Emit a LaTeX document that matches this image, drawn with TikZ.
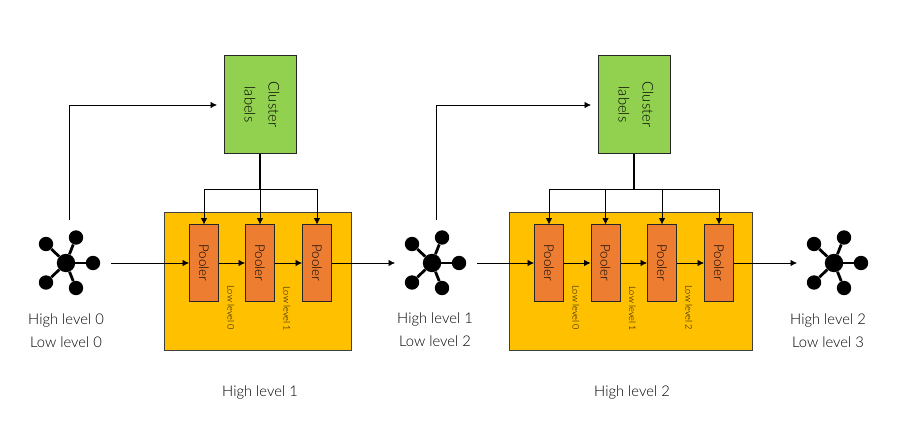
\documentclass[tikz,border=0pt]{standalone}
\usepackage{fontspec}
\setmainfont{Lato Light}
\usetikzlibrary{arrows.meta}
\newcommand{\vtext}[1]{\rotatebox{-90}{#1}}
\newcommand{\hubicon}[2]{%
\node [hub] (#1) at (#2,263) {};
\foreach \dx/\dy/\sat in {27/0/a,10/-25.5/b,-20/-19/c,-20/19.5/d,10/25/e}
{
\node [leaf] (#1\sat) at (#2+\dx,263+\dy) {};
\draw [spoke] (#1) -- (#1\sat);
}
}
\tikzset{
  hub/.style = {circle, fill=black, inner sep=0pt, minimum size=0.46cm},
  leaf/.style = {circle, fill=black, inner sep=0pt, minimum size=0.36cm},
  spoke/.style = {line width=2pt, black},
  panel/.style = {draw=black!75, line width=0.7pt, fill=panelyellow, minimum height=3.425cm},
  pooler/.style = {draw=black!85, line width=0.7pt, fill=poolerorange, minimum width=0.725cm, minimum height=1.9cm, inner sep=0pt, font=\fontsize{9.5}{11}\selectfont},
  cluster/.style = {draw=black!85, line width=0.7pt, fill=clustergreen, minimum width=1.8cm, minimum height=2.425cm, inner sep=0pt, font=\fontsize{10.5}{12}\selectfont},
  flow/.style = {-{Latex[length=0.16cm,width=0.16cm]}, line width=0.5pt, black},
  tiny/.style = {font=\fontsize{6.5}{7}\selectfont, inner sep=0pt},
  caption/.style = {font=\fontsize{10.5}{12}\selectfont, inner sep=0pt}
}
\definecolor{panelyellow}{HTML}{FFC000}
\definecolor{poolerorange}{HTML}{ED7D31}
\definecolor{clustergreen}{HTML}{92D050}
\begin{document}
\begin{tikzpicture}[x=0.025cm,y=-0.025cm]
\useasboundingbox (0,0) rectangle (906,426);

% first stage
\node [panel, minimum width=4.65cm] (panelA) at (258,281.5) {};
\node [cluster] (clusterA) at (260,104.5) {\vtext{\begin{tabular}{@{}c@{}}Cluster\\[5pt]labels\end{tabular}}};
\node [pooler] (poolA1) at (204,263) {\vtext{Pooler}};
\node [pooler] (poolA2) at (260,263) {\vtext{Pooler}};
\node [pooler] (poolA3) at (317,263) {\vtext{Pooler}};
\node [tiny] (lowA0) at (231,308) {\vtext{Low level 0}};
\node [tiny] (lowA1) at (287,309) {\vtext{Low level 1}};
\node [caption] (capA) at (260,392) {High level 1};

% second stage
\node [panel, minimum width=6.05cm] (panelB) at (631,281.5) {};
\node [cluster] (clusterB) at (634,104.5) {\vtext{\begin{tabular}{@{}c@{}}Cluster\\[5pt]labels\end{tabular}}};
\node [pooler] (poolB1) at (549,263) {\vtext{Pooler}};
\node [pooler] (poolB2) at (605.5,263) {\vtext{Pooler}};
\node [pooler] (poolB3) at (662,263) {\vtext{Pooler}};
\node [pooler] (poolB4) at (719,263) {\vtext{Pooler}};
\node [tiny] (lowB0) at (576,308) {\vtext{Low level 0}};
\node [tiny] (lowB1) at (632.5,309) {\vtext{Low level 1}};
\node [tiny] (lowB2) at (689,308) {\vtext{Low level 2}};
\node [caption] (capB) at (632,392) {High level 2};

% graphs
\hubicon{hubA}{66}
\hubicon{hubB}{432}
\hubicon{hubC}{834}
\node [caption] (hiA) at (66,320) {High level 0};
\node [caption] (loA) at (66,342) {Low level 0};
\node [caption] (hiB) at (435,319) {High level 1};
\node [caption] (loB) at (435,341) {Low level 2};
\node [caption] (hiC) at (828,320) {High level 2};
\node [caption] (loC) at (828,342) {Low level 3};

% free ends
\coordinate (inA) at (111,263);
\coordinate (outA) at (395,263);
\coordinate (inB) at (477,263);
\coordinate (outB) at (797,263);
\coordinate (upA) at (69,220);
\coordinate (upB) at (436,220);
\coordinate (topA) at (217,105);
\coordinate (topB) at (591,105);
\coordinate (forkA) at (260,189);
\coordinate (forkB) at (634,189);

% main line
\draw [flow] (inA) -- (poolA1);
\draw [flow] (poolA1) -- (poolA2);
\draw [flow] (poolA2) -- (poolA3);
\draw [flow] (poolA3) -- (outA);
\draw [flow] (inB) -- (poolB1);
\draw [flow] (poolB1) -- (poolB2);
\draw [flow] (poolB2) -- (poolB3);
\draw [flow] (poolB3) -- (poolB4);
\draw [flow] (poolB4) -- (outB);

% to the cluster boxes
\draw [flow] (upA) |- (topA);
\draw [flow] (upB) |- (topB);

% from the cluster boxes
\draw [line width=1pt] (clusterA.south) -- (forkA);
\draw [line width=1pt] (clusterB.south) -- (forkB);
\foreach \p in {1,2,3}
\draw [flow] (forkA) -| (poolA\p.north);
\foreach \p in {1,2,3,4}
\draw [flow] (forkB) -| (poolB\p.north);

\end{tikzpicture}
\end{document}
